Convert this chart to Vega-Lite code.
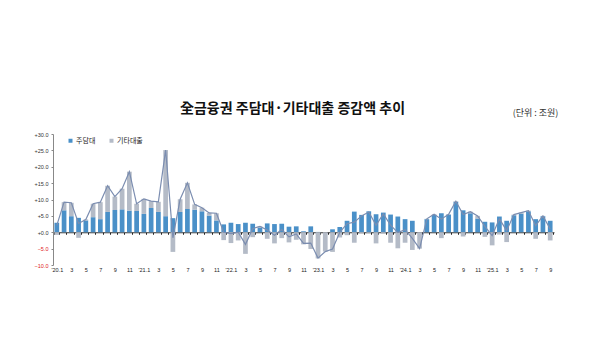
{
  "$schema": "https://vega.github.io/schema/vega-lite/v6.json",
  "width": 501,
  "height": 131,
  "autosize": "none",
  "padding": {"left": 53, "top": 134, "right": 46, "bottom": 88},
  "background": "white",
  "title": {
    "text": "全금융권 주담대·기타대출 증감액 추이",
    "font": "Noto Sans CJK KR",
    "fontSize": 14,
    "fontWeight": "bold",
    "color": "#111111",
    "anchor": "middle",
    "dx": -11,
    "offset": -8
  },
  "config": {
    "view": {"stroke": null},
    "font": "Noto Sans CJK KR",
    "axisY": {"labelOverlap": false, "labelBound": false},
    "axisX": {"labelOverlap": false}
  },
  "data": {
    "values": [
      {"m":"20.01","s":"주담대","v":2.9},{"m":"20.01","s":"기타대출","v":-0.8},
      {"m":"20.02","s":"주담대","v":6.7},{"m":"20.02","s":"기타대출","v":2.5},
      {"m":"20.03","s":"주담대","v":4.9},{"m":"20.03","s":"기타대출","v":4.1},
      {"m":"20.04","s":"주담대","v":4.4},{"m":"20.04","s":"기타대출","v":-1.7},
      {"m":"20.05","s":"주담대","v":3.6},{"m":"20.05","s":"기타대출","v":0.3},
      {"m":"20.06","s":"주담대","v":4.6},{"m":"20.06","s":"기타대출","v":4.1},
      {"m":"20.07","s":"주담대","v":4.0},{"m":"20.07","s":"기타대출","v":5.2},
      {"m":"20.08","s":"주담대","v":6.2},{"m":"20.08","s":"기타대출","v":8.0},
      {"m":"20.09","s":"주담대","v":6.8},{"m":"20.09","s":"기타대출","v":4.1},
      {"m":"20.10","s":"주담대","v":7.0},{"m":"20.10","s":"기타대출","v":6.3},
      {"m":"20.11","s":"주담대","v":6.6},{"m":"20.11","s":"기타대출","v":11.9},
      {"m":"20.12","s":"주담대","v":6.5},{"m":"20.12","s":"기타대출","v":2.2},
      {"m":"21.01","s":"주담대","v":5.6},{"m":"21.01","s":"기타대출","v":4.6},
      {"m":"21.02","s":"주담대","v":7.4},{"m":"21.02","s":"기타대출","v":2.1},
      {"m":"21.03","s":"주담대","v":6.2},{"m":"21.03","s":"기타대출","v":3.1},
      {"m":"21.04","s":"주담대","v":4.9},{"m":"21.04","s":"기타대출","v":20.2},
      {"m":"21.05","s":"주담대","v":4.3},{"m":"21.05","s":"기타대출","v":-6.0},
      {"m":"21.06","s":"주담대","v":6.2},{"m":"21.06","s":"기타대출","v":3.9},
      {"m":"21.07","s":"주담대","v":7.1},{"m":"21.07","s":"기타대출","v":8.0},
      {"m":"21.08","s":"주담대","v":6.9},{"m":"21.08","s":"기타대출","v":1.6},
      {"m":"21.09","s":"주담대","v":6.4},{"m":"21.09","s":"기타대출","v":1.1},
      {"m":"21.10","s":"주담대","v":5.1},{"m":"21.10","s":"기타대출","v":0.8},
      {"m":"21.11","s":"주담대","v":3.6},{"m":"21.11","s":"기타대출","v":2.2},
      {"m":"21.12","s":"주담대","v":2.4},{"m":"21.12","s":"기타대출","v":-2.4},
      {"m":"22.01","s":"주담대","v":2.9},{"m":"22.01","s":"기타대출","v":-3.3},
      {"m":"22.02","s":"주담대","v":2.5},{"m":"22.02","s":"기타대출","v":-2.5},
      {"m":"22.03","s":"주담대","v":2.9},{"m":"22.03","s":"기타대출","v":-6.6},
      {"m":"22.04","s":"주담대","v":2.6},{"m":"22.04","s":"기타대출","v":-1.5},
      {"m":"22.05","s":"주담대","v":1.4},{"m":"22.05","s":"기타대출","v":0.4},
      {"m":"22.06","s":"주담대","v":2.7},{"m":"22.06","s":"기타대출","v":-2.0},
      {"m":"22.07","s":"주담대","v":2.5},{"m":"22.07","s":"기타대출","v":-3.4},
      {"m":"22.08","s":"주담대","v":2.6},{"m":"22.08","s":"기타대출","v":-1.8},
      {"m":"22.09","s":"주담대","v":1.7},{"m":"22.09","s":"기타대출","v":-3.1},
      {"m":"22.10","s":"주담대","v":1.8},{"m":"22.10","s":"기타대출","v":-2.3},
      {"m":"22.11","s":"주담대","v":0.3},{"m":"22.11","s":"기타대출","v":-3.7},
      {"m":"22.12","s":"주담대","v":1.8},{"m":"22.12","s":"기타대출","v":-5.1},
      {"m":"23.01","s":"주담대","v":0.1},{"m":"23.01","s":"기타대출","v":-8.0},
      {"m":"23.02","s":"주담대","v":0.0},{"m":"23.02","s":"기타대출","v":-5.9},
      {"m":"23.03","s":"주담대","v":0.9},{"m":"23.03","s":"기타대출","v":-6.0},
      {"m":"23.04","s":"주담대","v":1.6},{"m":"23.04","s":"기타대출","v":-1.6},
      {"m":"23.05","s":"주담대","v":3.5},{"m":"23.05","s":"기타대출","v":-0.9},
      {"m":"23.06","s":"주담대","v":6.3},{"m":"23.06","s":"기타대출","v":-3.2},
      {"m":"23.07","s":"주담대","v":5.3},{"m":"23.07","s":"기타대출","v":-0.3},
      {"m":"23.08","s":"주담대","v":6.4},{"m":"23.08","s":"기타대출","v":-0.2},
      {"m":"23.09","s":"주담대","v":5.5},{"m":"23.09","s":"기타대출","v":-3.4},
      {"m":"23.10","s":"주담대","v":6.0},{"m":"23.10","s":"기타대출","v":-0.4},
      {"m":"23.11","s":"주담대","v":5.4},{"m":"23.11","s":"기타대출","v":-3.2},
      {"m":"23.12","s":"주담대","v":4.8},{"m":"23.12","s":"기타대출","v":-4.9},
      {"m":"24.01","s":"주담대","v":4.0},{"m":"24.01","s":"기타대출","v":-3.2},
      {"m":"24.02","s":"주담대","v":3.5},{"m":"24.02","s":"기타대출","v":-5.4},
      {"m":"24.03","s":"주담대","v":0.0},{"m":"24.03","s":"기타대출","v":-5.0},
      {"m":"24.04","s":"주담대","v":4.0},{"m":"24.04","s":"기타대출","v":0.1},
      {"m":"24.05","s":"주담대","v":5.3},{"m":"24.05","s":"기타대출","v":0.2},
      {"m":"24.06","s":"주담대","v":5.8},{"m":"24.06","s":"기타대출","v":-1.8},
      {"m":"24.07","s":"주담대","v":5.4},{"m":"24.07","s":"기타대출","v":0.1},
      {"m":"24.08","s":"주담대","v":9.3},{"m":"24.08","s":"기타대출","v":0.2},
      {"m":"24.09","s":"주담대","v":6.7},{"m":"24.09","s":"기타대출","v":-1.3},
      {"m":"24.10","s":"주담대","v":5.8},{"m":"24.10","s":"기타대출","v":0.5},
      {"m":"24.11","s":"주담대","v":4.2},{"m":"24.11","s":"기타대출","v":0.8},
      {"m":"24.12","s":"주담대","v":3.2},{"m":"24.12","s":"기타대출","v":-1.4},
      {"m":"25.01","s":"주담대","v":3.0},{"m":"25.01","s":"기타대출","v":-4.0},
      {"m":"25.02","s":"주담대","v":4.8},{"m":"25.02","s":"기타대출","v":-0.7},
      {"m":"25.03","s":"주담대","v":3.5},{"m":"25.03","s":"기타대출","v":-3.0},
      {"m":"25.04","s":"주담대","v":5.2},{"m":"25.04","s":"기타대출","v":0.2},
      {"m":"25.05","s":"주담대","v":5.7},{"m":"25.05","s":"기타대출","v":0.3},
      {"m":"25.06","s":"주담대","v":6.4},{"m":"25.06","s":"기타대출","v":0.2},
      {"m":"25.07","s":"주담대","v":4.0},{"m":"25.07","s":"기타대출","v":-2.0},
      {"m":"25.08","s":"주담대","v":4.9},{"m":"25.08","s":"기타대출","v":0.1},
      {"m":"25.09","s":"주담대","v":3.5},{"m":"25.09","s":"기타대출","v":-2.5}
    ]
  },
  "layer": [
    {
      "mark": {"type": "bar"},
      "encoding": {
        "x": {
          "field": "m",
          "type": "ordinal",
          "sort": null,
          "scale": {"paddingInner": 0.35, "paddingOuter": 0.2},
          "axis": {
            "title": null,
            "orient": "bottom",
            "offset": -32.75,
            "domainColor": "#333333",
            "domainWidth": 1,
            "ticks": true,
            "tickColor": "#222222",
            "tickSize": 2,
            "tickBand": "extent",
            "labelPadding": 33,
            "labelAngle": 0,
            "labelFontSize": 5.5,
            "labelColor": "#222222",
            "labelFont": "Liberation Sans",
            "labelOverlap": false,
            "labelExpr": "toNumber(substring(datum.value,3)) % 2 == 1 ? (toNumber(substring(datum.value,3)) == 1 ? \"'\" + substring(datum.value,0,2) + '.1' : '' + toNumber(substring(datum.value,3))) : ''"
          }
        },
        "y": {
          "field": "v",
          "type": "quantitative",
          "stack": "zero",
          "scale": {"domain": [-10, 30], "nice": false},
          "axis": {
            "title": "(단위 : 조원)",
            "titleAngle": 0,
            "titleX": 482,
            "titleY": -22,
            "titleAlign": "center",
            "titleBaseline": "middle",
            "titleFontSize": 9,
            "titleFontWeight": "normal",
            "titleColor": "#333333",
            "titleFont": "Noto Sans CJK KR",
            "values": [-10, -5, 0, 5, 10, 15, 20, 25, 30],
            "labelOverlap": false,
            "labelBound": false,
            "grid": false,
            "domainColor": "#888888",
            "tickColor": "#888888",
            "tickSize": 2,
            "labelPadding": 3,
            "labelFontSize": 5.5,
            "labelFont": "Liberation Sans",
            "labelColor": {"condition": {"test": "datum.value < 0", "value": "#e02020"}, "value": "#333333"},
            "labelExpr": "(datum.value >= 0 ? '+' : '') + format(datum.value, '.1f')"
          }
        },
        "color": {
          "field": "s",
          "type": "nominal",
          "sort": ["주담대", "기타대출"],
          "scale": {"domain": ["주담대", "기타대출"], "range": ["#4a90c8", "#b4bbc7"]},
          "legend": {
            "title": null,
            "orient": "none",
            "legendX": 14,
            "legendY": 3,
            "direction": "horizontal",
            "symbolType": "square",
            "symbolSize": 16,
            "symbolStrokeWidth": 0,
            "labelFontSize": 7,
            "labelFont": "Noto Sans CJK KR",
            "labelColor": "#222222",
            "columnPadding": 12,
            "labelOffset": 2
          }
        },
        "order": {"field": "s", "sort": "descending"}
      }
    },
    {
      "mark": {"type": "line", "color": "#7b8db0", "strokeWidth": 1.2},
      "encoding": {
        "x": {"field": "m", "type": "ordinal", "sort": null},
        "y": {"aggregate": "sum", "field": "v", "type": "quantitative", "axis": {"labelOverlap": false, "values": [-10, -5, 0, 5, 10, 15, 20, 25, 30]}}
      }
    }
  ]
}
